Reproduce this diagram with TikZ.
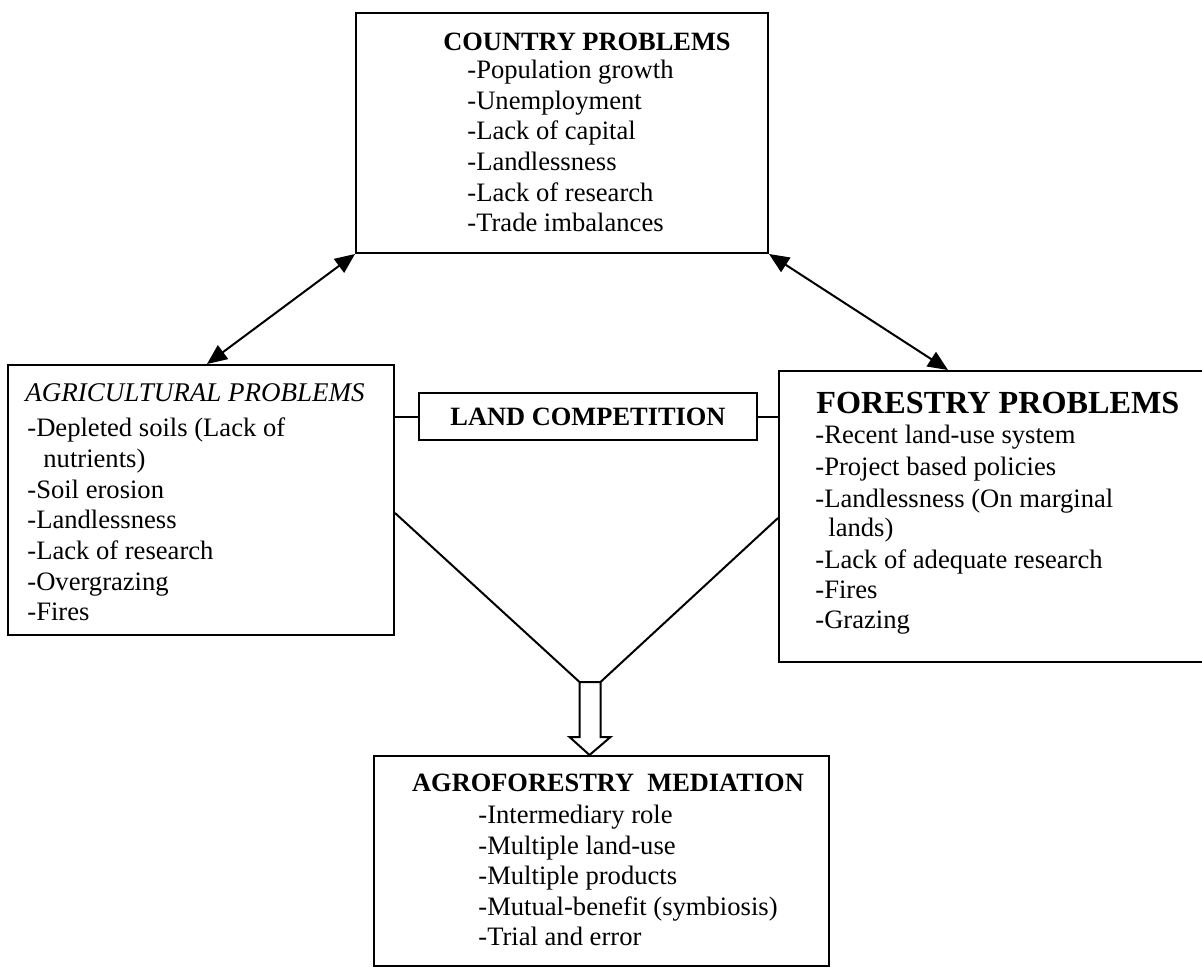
\documentclass[tikz,border=0pt]{standalone}
\usepackage{fontspec}
\setmainfont{Liberation Serif}
\usetikzlibrary{arrows.meta, calc, positioning}

\begin{document}
\begin{tikzpicture}[x=0.5pt, y=-0.5pt,
    box/.style={rectangle, draw, line width=1pt, inner sep=0pt},
    title/.style={font=\fontsize{13.2}{15}\selectfont\bfseries, inner sep=0pt, anchor=base},
    item/.style={font=\fontsize{13.3}{15}\selectfont, inner sep=0pt, anchor=base west},
    arrowstyle/.style={draw, line width=1pt,
        {Triangle[length=10pt, width=8.5pt]}-{Triangle[length=10pt, width=8.5pt]}},
    edgestyle/.style={draw, line width=1pt, line join=miter}
]
\useasboundingbox (0,0) rectangle (1202,972);
\clip (0,0) rectangle (1202,972);

% the five boxes
\node (Country) [box, minimum width=206pt, minimum height=120pt] at (562,133) {};
\node (Agriculture) [box, minimum width=193pt, minimum height=135pt] at (201,500) {};
\node (Competition) [box, minimum width=169pt, minimum height=23.5pt,
    font=\fontsize{13.2}{15}\selectfont\bfseries] at (588,416.5) {LAND COMPETITION};
\node (Forestry) [box, minimum width=225.5pt, minimum height=145.5pt] at (1004.5,516.5) {};
\node (Mediation) [box, minimum width=227.5pt, minimum height=105pt] at (601.5,861) {};

% headings
\node (CountryTitle) [title] at (587,51) {COUNTRY PROBLEMS};
\node (AgricultureTitle) [title, anchor=base west,
    font=\fontsize{13.5}{15}\selectfont\itshape] at (25,401) {AGRICULTURAL PROBLEMS};
\node (ForestryTitle) [title, anchor=base west,
    font=\fontsize{16.1}{18}\selectfont\bfseries] at (816,413) {FORESTRY PROBLEMS};
\node (MediationTitle) [title] at (608,791) {AGROFORESTRY\ \ MEDIATION};

% lists
\foreach \y/\txt [count=\i] in {79/-Population growth, 110/-Unemployment,
    140/-Lack of capital, 171/-Landlessness, 202/-Lack of research, 232/-Trade imbalances}
  \node (CountryItem\i) [item] at (467,\y) {\txt};

\foreach \x/\y/\txt [count=\i] in {27/436/-Depleted soils (Lack of, 43/467/nutrients),
    27/498/-Soil erosion, 27/528/-Landlessness, 27/559/-Lack of research,
    27/590/-Overgrazing, 27/620/-Fires}
  \node (AgricultureItem\i) [item] at (\x,\y) {\txt};

\foreach \x/\y/\txt [count=\i] in {815/443/-Recent land-use system, 815/475/-Project based policies,
    815/507/-Landlessness (On marginal, 828/536/lands), 815/568/-Lack of adequate research,
    815/598/-Fires, 815/628/-Grazing}
  \node (ForestryItem\i) [item] at (\x,\y) {\txt};

\foreach \y/\txt [count=\i] in {823/-Intermediary role, 854/-Multiple land-use,
    884/-Multiple products, 915/-Mutual-benefit (symbiosis), 945/-Trial and error}
  \node (MediationItem\i) [item] at (478,\y) {\txt};

% links between boxes
\draw[arrowstyle] ([xshift=3pt]Agriculture.north) -- (Country.south west);
\draw[arrowstyle] (Country.south east) -- ([xshift=85pt]Forestry.north west);
\draw[edgestyle] (Competition.west -| Agriculture.east) -- (Competition.west);
\draw[edgestyle] (Competition.east) -- (Competition.east -| Forestry.west);

% hollow arrow into the mediation box
\coordinate (Tip) at ([xshift=-6pt]Mediation.north);
\coordinate (ShaftLeft) at ($(Tip)+(-10,-73)$);
\coordinate (ShaftRight) at ($(Tip)+(11,-73)$);
\draw[edgestyle] (Tip) -- ++(-20,-18) -- ++(10,0) -- (ShaftLeft) -- (ShaftRight)
    -- ++(0,55) -- ++(10,0) -- cycle;
\draw[edgestyle] ([yshift=-6.5pt]Agriculture.east) -- (ShaftLeft);
\draw[edgestyle] ([yshift=-0.75pt]Forestry.west) -- (ShaftRight);

\end{tikzpicture}
\end{document}
